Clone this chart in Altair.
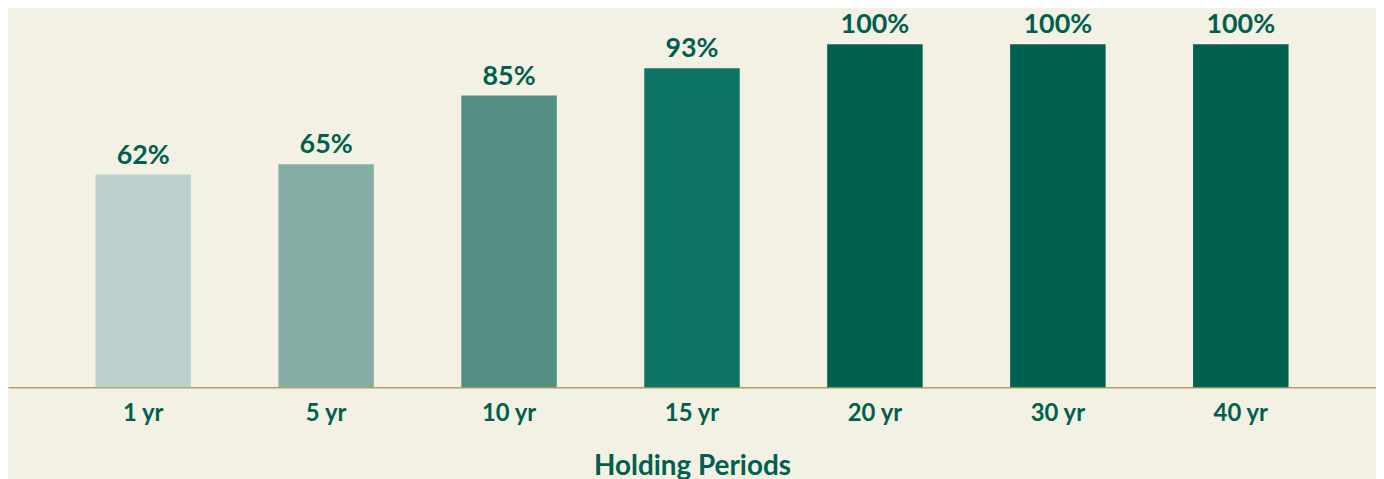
import altair as alt
import pandas as pd

periods = ["1 yr", "5 yr", "10 yr", "15 yr", "20 yr", "30 yr", "40 yr"]
values = [62, 65, 85, 93, 100, 100, 100]
colors = ["#BCD0CE", "#86ADA5", "#528E83", "#0E7464", "#006150", "#006150", "#006150"]
labels = ["62%", "65%", "85%", "93%", "100%", "100%", "100%"]

df = pd.DataFrame({"period": periods, "value": values, "color": colors, "label": labels})

TEXT = "#00604E"
FONT = "Lato"

x = alt.X("period:N", sort=periods, title="Holding Periods",
          scale=alt.Scale(paddingInner=0.478, paddingOuter=0.478),
          axis=alt.Axis(labelAngle=0, labelFont=FONT, labelFontSize=24, labelFontWeight="bold",
                        labelColor=TEXT, labelPadding=15, ticks=False, domainColor="#B89F5E",
                        domainWidth=1.5, titleFont=FONT, titleFontSize=28, titleFontWeight="bold",
                        titleColor=TEXT, titlePadding=27, grid=False))
y = alt.Y("value:Q", scale=alt.Scale(domain=[0, 110.14], nice=False), axis=None)

bars = alt.Chart(df).mark_bar().encode(x=x, y=y, color=alt.Color("color:N", scale=None))
text = alt.Chart(df).mark_text(baseline="bottom", dy=-5, font=FONT, fontSize=27,
                               fontWeight="bold", color=TEXT).encode(
    x=alt.X("period:N", sort=periods), y="value:Q", text="label:N")

chart = alt.layer(bars, text).properties(
    width=1376, height=380, background="#F3F1E4", padding=0
).configure_view(stroke=None)

chart.save("out.html", embed_options={"renderer": "svg", "actions": False})
